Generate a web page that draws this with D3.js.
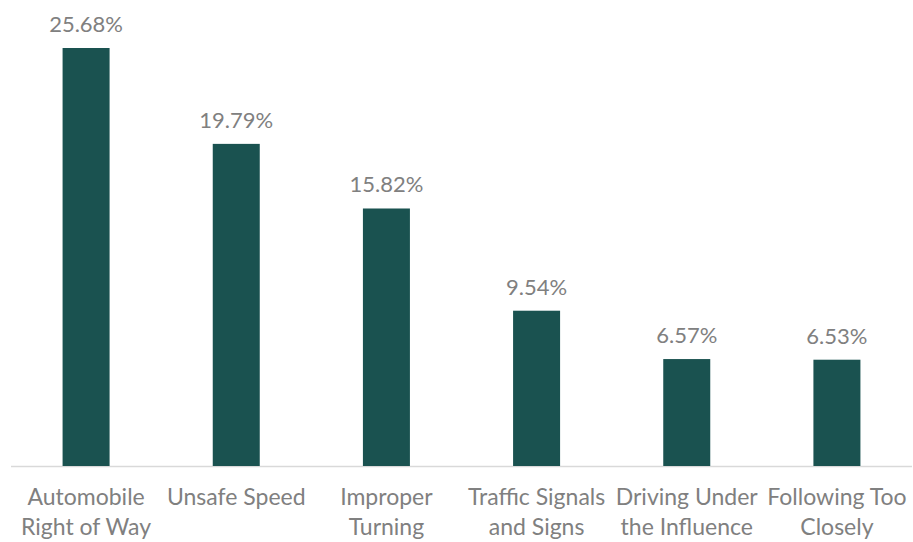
<!DOCTYPE html>
<html><head><meta charset="utf-8">
<script src="https://cdn.jsdelivr.net/npm/d3@7"></script>
<style>body{margin:0;background:#fff}svg{display:block}</style>
</head><body>
<svg id="c" width="913" height="542"></svg>
<script>
const categories = [["Automobile","Right of Way"],["Unsafe Speed"],["Improper","Turning"],["Traffic Signals","and Signs"],["Driving Under","the Influence"],["Following Too","Closely"]];
const values = [25.68, 19.79, 15.82, 9.54, 6.57, 6.53];
const valueLabels = ["25.68%","19.79%","15.82%","9.54%","6.57%","6.53%"];

const svg = d3.select("#c");
const font = "'Source Sans Pro', Lato, 'Open Sans', sans-serif";
const x = d3.scaleBand().domain(d3.range(values.length)).range([11, 912]).paddingInner(0.687).paddingOuter(0.3435);
const y = d3.scaleLinear().domain([0, 25.68]).range([466, 48]);

svg.append("line").attr("x1",11).attr("x2",912).attr("y1",466.5).attr("y2",466.5).attr("stroke","#d9d9d9").attr("stroke-width",1.5);

svg.selectAll("rect.bar").data(values).join("rect").attr("class","bar")
  .attr("x",(d,i)=>x(i)).attr("width",x.bandwidth())
  .attr("y",d=>y(d)).attr("height",d=>y(0)-y(d)).attr("fill","#1a5250");

svg.selectAll("text.val").data(values).join("text").attr("class","val")
  .attr("x",(d,i)=>x(i)+x.bandwidth()/2).attr("y",d=>y(d)-16)
  .attr("text-anchor","middle").attr("font-family",font).attr("font-size",22).attr("fill","#808080")
  .text((d,i)=>valueLabels[i]);

const g = svg.selectAll("text.cat").data(categories).join("text").attr("class","cat")
  .attr("text-anchor","middle").attr("font-family",font).attr("font-size",23).attr("fill","#808080");
g.each(function(lines,i){
  const t = d3.select(this);
  lines.forEach((l,j)=>t.append("tspan").attr("x",x(i)+x.bandwidth()/2).attr("y",505+j*29.5).text(l));
});
</script>
</body></html>
